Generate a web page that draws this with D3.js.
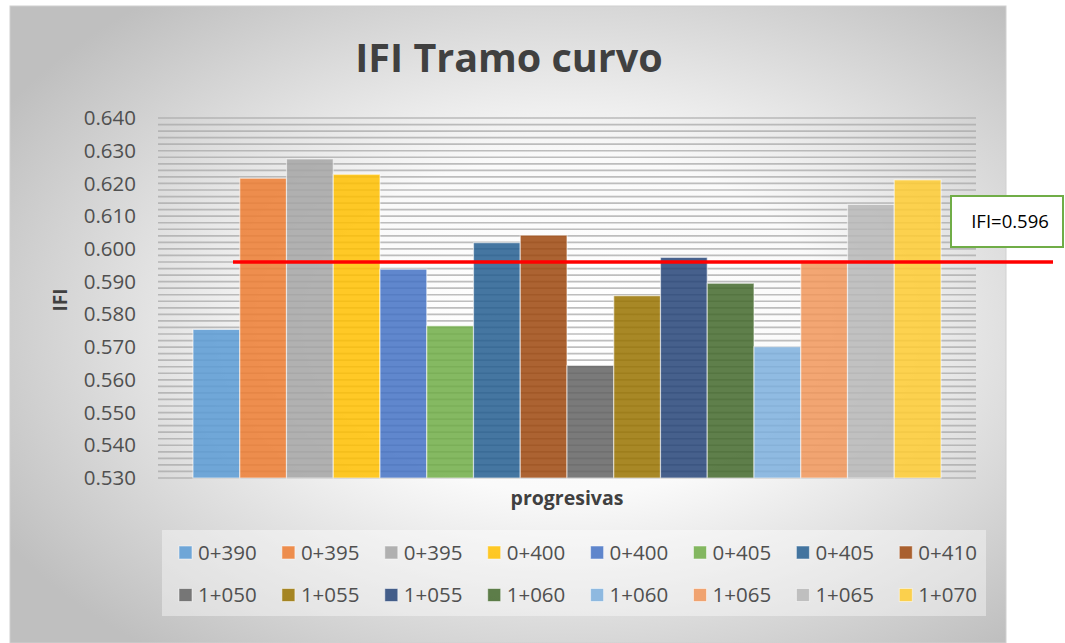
<!DOCTYPE html>
<html>
<head>
<meta charset="utf-8">
<script src="https://cdn.jsdelivr.net/npm/d3@7"></script>
<style>
  html, body { margin: 0; padding: 0; background: #fff; }
  svg { display: block; }
  text { font-family: "Open Sans", "Noto Sans", sans-serif; }
</style>
</head>
<body>
<svg id="chart" width="1065" height="643"></svg>
<script>
// ---- data ----
const seriesLabels = ["0+390","0+395","0+395","0+400","0+400","0+405","0+405","0+410",
                      "1+050","1+055","1+055","1+060","1+060","1+065","1+065","1+070"];
const seriesValues = [0.5754,0.6216,0.6275,0.6228,0.5938,0.5765,0.6019,0.6042,
                      0.5644,0.5857,0.5974,0.5895,0.5701,0.5965,0.6136,0.6211];
const seriesColors = ["#5B9BD5","#ED7D31","#A5A5A5","#FFC000","#4472C4","#70AD47","#255E91","#9E480E",
                      "#636363","#997300","#264478","#43682B","#7CAFDD","#F1975A","#B7B7B7","#FFCD33"];
const yTickValues = [0.530,0.540,0.550,0.560,0.570,0.580,0.590,0.600,0.610,0.620,0.630,0.640];
const threshold = 0.596;
const thresholdLabel = "IFI=0.596";
const titleText = "IFI Tramo curvo";
const yTitle = "IFI";
const xTitle = "progresivas";

// ---- layout ----
const W = 1065, H = 643;
const panel = {x: 10, y: 6, w: 996, h: 637};
const plot = {left: 158, right: 976, top: 118, bottom: 478};
const svg = d3.select("#chart");
const defs = svg.append("defs");

const grad = defs.append("radialGradient").attr("id","bg")
  .attr("cx","56%").attr("cy","50%").attr("r","66%").attr("fx","56%").attr("fy","50%");
grad.append("stop").attr("offset","0%").attr("stop-color","#ffffff");
grad.append("stop").attr("offset","40%").attr("stop-color","#fafafa");
grad.append("stop").attr("offset","100%").attr("stop-color","#bfbfbf");

svg.append("rect").attr("x",panel.x).attr("y",panel.y).attr("width",panel.w).attr("height",panel.h)
  .attr("fill","url(#bg)").attr("stroke","#d0d0d0").attr("stroke-width",1);

// scales
const y = d3.scaleLinear().domain([0.530, 0.640]).range([plot.bottom, plot.top]);
const gapPx = 35;
const x = d3.scaleBand().domain(d3.range(seriesValues.length))
  .range([plot.left + gapPx, plot.right - gapPx]).padding(0);

// gridlines every 0.002
const gridVals = d3.range(0, 56).map(i => +(0.530 + i * 0.002).toFixed(3));
svg.append("g").selectAll("line").data(gridVals).join("line")
  .attr("x1", plot.left).attr("x2", plot.right)
  .attr("y1", d => y(d)).attr("y2", d => y(d))
  .attr("stroke", "#a8a8a8").attr("stroke-opacity", 0.75).attr("stroke-width", 1.7);

// y axis labels
const yAxis = d3.axisLeft(y).tickValues(yTickValues).tickFormat(d3.format(".3f")).tickSize(0).tickPadding(0);
const gy = svg.append("g").attr("transform", `translate(136,0)`).call(yAxis);
gy.select(".domain").remove();
gy.selectAll("text").attr("fill","#505050").style("font-size","20.5px")
  .style("font-family","'Open Sans', sans-serif");

// bars
svg.append("g").selectAll("rect").data(seriesValues).join("rect")
  .attr("x", (d,i) => x(i))
  .attr("width", x.bandwidth())
  .attr("y", d => y(d))
  .attr("height", d => y(0.530) - y(d))
  .attr("fill", (d,i) => seriesColors[i])
  .attr("fill-opacity", 0.85)
  .attr("stroke", "#ffffff").attr("stroke-opacity", 0.55).attr("stroke-width", 1.2);

// threshold line
svg.append("line")
  .attr("x1", plot.left + 75).attr("x2", W - 12)
  .attr("y1", y(threshold)).attr("y2", y(threshold))
  .attr("stroke", "#ff0000").attr("stroke-width", 3.5);

// annotation box
const boxY = y(threshold) - 66;
svg.append("rect").attr("x", 951).attr("y", boxY).attr("width", 112).attr("height", 51)
  .attr("fill","#ffffff").attr("stroke","#70AD47").attr("stroke-width",2);
svg.append("text").attr("x", 1010).attr("y", boxY + 25.5).attr("dy","0.35em")
  .attr("text-anchor","middle").attr("fill","#000").style("font-size","18.5px").text(thresholdLabel);

// title
svg.append("text").attr("x", 509).attr("y", 72).attr("text-anchor","middle")
  .attr("fill","#404040").style("font-size","39.5px").style("font-weight","700").text(titleText);

// axis titles
svg.append("text").attr("transform","translate(67,300) rotate(-90)").attr("text-anchor","middle")
  .attr("fill","#404040").style("font-size","19px").style("font-weight","700").text(yTitle);
svg.append("text").attr("x", 567).attr("y", 505).attr("text-anchor","middle")
  .attr("fill","#404040").style("font-size","19.5px").style("font-weight","700").text(xTitle);

// legend
svg.append("rect").attr("x",162).attr("y",530).attr("width",824).attr("height",86)
  .attr("fill","#ffffff").attr("fill-opacity",0.4);
const perRow = 8, itemW = 102.9, lx0 = 179, rowY = [552.5, 595];
const items = svg.append("g").selectAll("g").data(seriesLabels).join("g")
  .attr("transform",(d,i) => `translate(${lx0 + (i % perRow) * itemW},${rowY[Math.floor(i / perRow)]})`);
items.append("rect").attr("x",0).attr("y",-6.5).attr("width",13).attr("height",13)
  .attr("fill",(d,i) => seriesColors[i]).attr("fill-opacity",0.85)
  .attr("stroke","#ffffff").attr("stroke-opacity",0.5).attr("stroke-width",1);
items.append("text").attr("x",19).attr("dy","0.35em").attr("fill","#505050")
  .style("font-size","20.5px").text(d => d);
</script>
</body>
</html>
